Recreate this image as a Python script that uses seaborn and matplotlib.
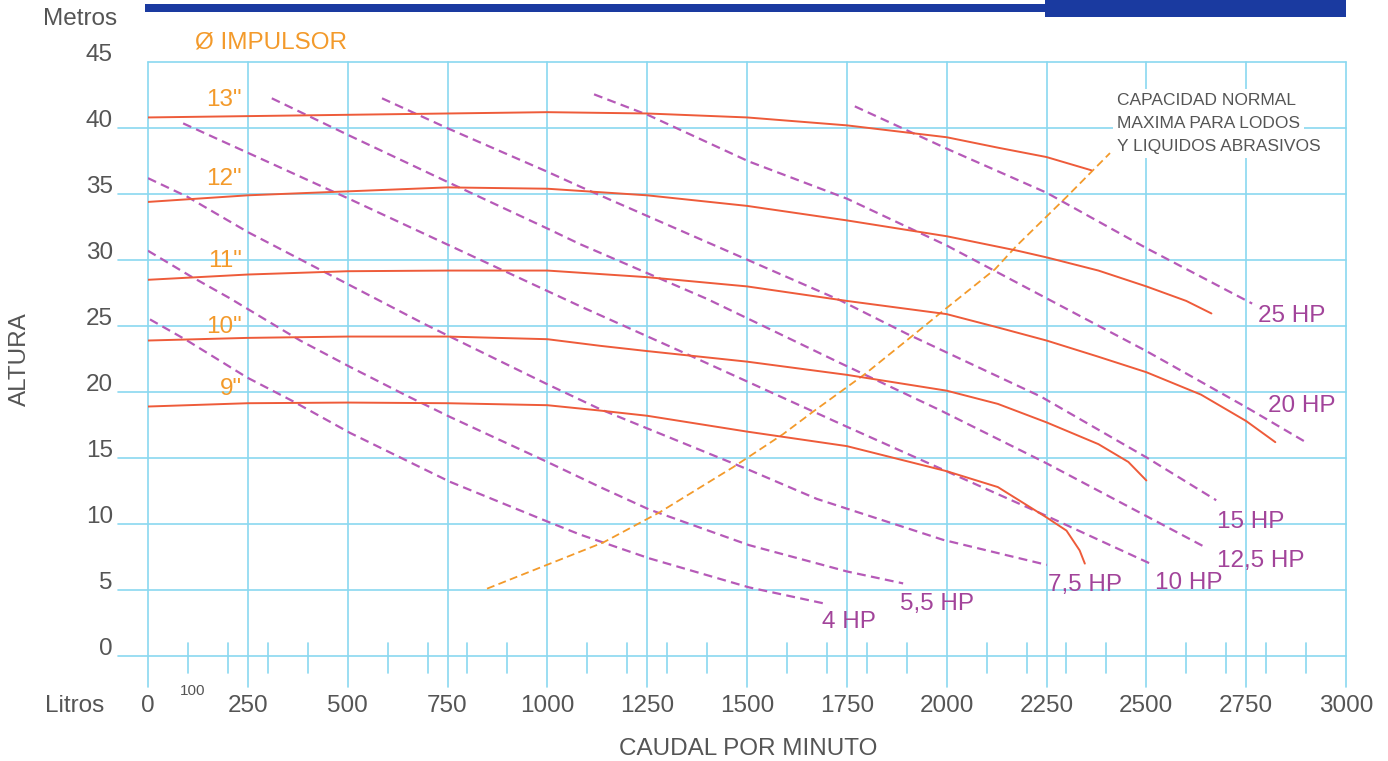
import matplotlib
matplotlib.use("Agg")
import matplotlib.pyplot as plt
import seaborn as sns
import pandas as pd
from matplotlib import font_manager
from matplotlib.patches import Rectangle

# ---- impeller head curves: flow (l/min) vs head (m) ----
imp_names = ['13"', '12"', '11"', '10"', '9"']
q_13 = [0, 250, 500, 750, 1000, 1250, 1500, 1750, 2000, 2130, 2250, 2362]
h_13 = [40.8, 40.9, 41.0, 41.1, 41.2, 41.1, 40.8, 40.2, 39.3, 38.5, 37.8, 36.8]
q_12 = [0, 250, 500, 750, 1000, 1250, 1500, 1750, 2000, 2178, 2250, 2380, 2500, 2600, 2663]
h_12 = [34.4, 34.9, 35.2, 35.5, 35.4, 34.9, 34.1, 33.0, 31.8, 30.7, 30.2, 29.2, 28.0, 26.9, 25.95]
q_11 = [0, 250, 500, 750, 1000, 1250, 1500, 1750, 2000, 2127, 2250, 2377, 2500, 2637, 2750, 2823]
h_11 = [28.5, 28.9, 29.15, 29.2, 29.2, 28.7, 28.0, 26.9, 25.9, 24.9, 23.9, 22.7, 21.5, 19.8, 17.8, 16.2]
q_10 = [0, 250, 500, 750, 1000, 1132, 1250, 1500, 1750, 2000, 2128, 2250, 2380, 2455, 2500]
h_10 = [23.9, 24.1, 24.2, 24.2, 24.0, 23.5, 23.1, 22.3, 21.3, 20.1, 19.1, 17.7, 16.05, 14.7, 13.3]
q_9 = [0, 250, 500, 750, 1000, 1130, 1250, 1500, 1750, 2000, 2128, 2250, 2300, 2333, 2346]
h_9 = [18.9, 19.15, 19.2, 19.15, 19.0, 18.6, 18.2, 17.0, 15.9, 14.0, 12.8, 10.5, 9.5, 8.0, 7.0]

# ---- motor power lines ----
hp_names = ["4 HP", "5,5 HP", "7,5 HP", "10 HP", "12,5 HP", "15 HP", "20 HP", "25 HP"]
q_4hp = [5, 98, 248, 363, 506, 756, 999, 1082, 1255, 1505, 1690]
h_4hp = [25.5, 23.9, 21.1, 19.3, 16.9, 13.2, 10.2, 9.2, 7.4, 5.2, 4.0]
q_55hp = [0, 105, 205, 381, 506, 649, 757, 1000, 1132, 1255, 1505, 1751, 1891]
h_55hp = [30.7, 28.8, 27.1, 23.9, 21.9, 19.7, 18.1, 14.7, 12.8, 11.1, 8.4, 6.4, 5.5]
q_75hp = [0, 98, 251, 689, 756, 999, 1132, 1505, 1675, 1991, 2251]
h_75hp = [36.2, 34.8, 32.1, 25.2, 24.2, 20.6, 18.7, 14.1, 11.9, 8.8, 6.9]
q_10hp = [88, 506, 1082, 1340, 1733, 2251, 2517]
h_10hp = [40.35, 34.6, 26.5, 23.0, 17.6, 10.6, 6.9]
q_125hp = [310, 506, 751, 999, 1082, 1400, 1733, 1985, 2250, 2500, 2650]
h_125hp = [42.25, 39.4, 35.9, 32.4, 31.2, 27.05, 22.2, 18.6, 14.6, 10.6, 8.2]
q_15hp = [586, 751, 999, 1082, 1733, 1901, 2236, 2500, 2675]
h_15hp = [42.25, 39.97, 36.7, 35.56, 26.95, 24.4, 19.65, 15.05, 11.8]
q_20hp = [1117, 1254, 1505, 1750, 2000, 2250, 2500, 2750, 2905]
h_20hp = [42.55, 40.96, 37.46, 34.65, 31.1, 27.1, 23.1, 18.85, 16.1]
q_25hp = [1770, 2010, 2250, 2500, 2765]
h_25hp = [41.64, 38.3, 35.1, 30.9, 26.7]

# ---- limit for sludge / abrasive liquids ----
q_lim = [849, 1140, 1282, 1465, 1590, 1665, 1795, 1916, 1991, 2121, 2176, 2301, 2409]
h_lim = [5.1, 8.6, 10.9, 14.3, 16.8, 18.5, 21.35, 24.3, 26.15, 29.3, 31.1, 34.8, 38.1]

x_ticks = [0, 250, 500, 750, 1000, 1250, 1500, 1750, 2000, 2250, 2500, 2750, 3000]
y_ticks = [0, 5, 10, 15, 20, 25, 30, 35, 40, 45]

GRID = "#8ad8f0"
TEXT = "#555555"
ORANGE = "#f39a2b"
RED = "#ee5b3a"
PURPLE = "#b65ab8"
PURPLE_TXT = "#a2449a"
BLUE = "#1a3aa0"

sns.set_style("white")
avail = {f.name for f in font_manager.fontManager.ttflist}
fam = "Liberation Sans Narrow" if "Liberation Sans Narrow" in avail else "Liberation Sans"
plt.rcParams["font.family"] = [fam, "DejaVu Sans"]

fig = plt.figure(figsize=(13.88, 7.61), dpi=100)
ax = fig.add_axes([148 / 1388, 1 - 656 / 761, 1198 / 1388, 594 / 761])
ax.set_xlim(0, 3000)
ax.set_ylim(0, 45)
for s in ax.spines.values():
    s.set_visible(False)
ax.set_xticks([])
ax.set_yticks([])

# grid
for v in y_ticks[:-1]:
    ax.plot([-75, 3000], [v, v], color=GRID, lw=1.2, clip_on=False, zorder=1)
ax.plot([0, 3000], [45, 45], color=GRID, lw=1.2, clip_on=False, zorder=1)
for v in x_ticks:
    ax.plot([v, v], [-2.35, 45], color=GRID, lw=1.2, clip_on=False, zorder=1)
for v in range(100, 3000, 100):
    if v % 500:
        ax.plot([v, v], [1.0, -1.25], color=GRID, lw=1.2, clip_on=False, zorder=1)

# impeller curves
imp_q = [q_13, q_12, q_11, q_10, q_9]
imp_h = [h_13, h_12, h_11, h_10, h_9]
for name, q, h in zip(imp_names, imp_q, imp_h):
    df = pd.DataFrame({"q": q, "h": h})
    sns.lineplot(data=df, x="q", y="h", ax=ax, color=RED, lw=1.4, sort=False,
                 estimator=None, zorder=3)

# power lines
hp_q = [q_4hp, q_55hp, q_75hp, q_10hp, q_125hp, q_15hp, q_20hp, q_25hp]
hp_h = [h_4hp, h_55hp, h_75hp, h_10hp, h_125hp, h_15hp, h_20hp, h_25hp]
for name, q, h in zip(hp_names, hp_q, hp_h):
    df = pd.DataFrame({"q": q, "h": h})
    sns.lineplot(data=df, x="q", y="h", ax=ax, color=PURPLE, lw=1.6, sort=False,
                 estimator=None, zorder=2)
    ax.lines[-1].set_dashes([4.0, 2.4])

# limit line
df = pd.DataFrame({"q": q_lim, "h": h_lim})
sns.lineplot(data=df, x="q", y="h", ax=ax, color=ORANGE, lw=1.3, sort=False,
             estimator=None, zorder=2)
ax.lines[-1].set_dashes([4.4, 2.4])
ax.set_xlabel("")
ax.set_ylabel("")

# axis texts
FS = 17.5
for v in y_ticks:
    ax.text(-88, v + 0.05, str(v), ha="right", va="baseline", fontsize=FS, color=TEXT,
            clip_on=False)
for v in x_ticks:
    ax.text(v, -4.25, str(v), ha="center", va="baseline", fontsize=FS, color=TEXT,
            clip_on=False)
ax.text(113, -2.96, "100", ha="center", va="baseline", fontsize=11, color=TEXT)
ax.text(-183, -4.25, "Litros", ha="center", va="baseline", fontsize=FS, color=TEXT)
ax.text(-170, 47.8, "Metros", ha="center", va="baseline", fontsize=FS, color=TEXT)
ax.text(-320, 22.5, "ALTURA", ha="center", va="center", fontsize=FS, color=TEXT,
        rotation=90)
ax.text(1502, -7.5, "CAUDAL POR MINUTO", ha="center", va="baseline", fontsize=FS,
        color=TEXT)
ax.text(118, 46.05, "Ø IMPULSOR", ha="left", va="baseline", fontsize=FS, color=ORANGE)

# header bar
ax.add_patch(Rectangle((-7.5, 48.78), 2253.5, 0.62, color=BLUE, clip_on=False, lw=0))
ax.add_patch(Rectangle((2246, 48.4), 754, 1.6, color=BLUE, clip_on=False, lw=0))

# impeller labels
imp_lab_y = [41.64, 35.7, 29.5, 24.5, 19.8]
for name, y in zip(imp_names, imp_lab_y):
    ax.text(235, y, name, ha="right", va="baseline", fontsize=FS, color=ORANGE, zorder=4)

# power labels
hp_lab_x = [1688, 1883, 2254, 2521, 2677, 2677, 2804, 2779]
hp_lab_y = [2.13, 3.5, 4.94, 5.09, 6.76, 9.73, 18.47, 25.3]
for name, x, y in zip(hp_names, hp_lab_x, hp_lab_y):
    ax.text(x, y, name, ha="left", va="baseline", fontsize=FS, color=PURPLE_TXT, zorder=4)

note_lines = ["CAPACIDAD NORMAL", "MAXIMA PARA LODOS", "Y LIQUIDOS ABRASIVOS"]
note_y = [42.1, 40.35, 38.6]
for txt, y in zip(note_lines, note_y):
    ax.text(2426, y, txt, ha="left", va="center", fontsize=12.5, color=TEXT, zorder=5,
            bbox=dict(facecolor="white", edgecolor="none", pad=3))

fig.savefig("out.png", dpi=100, facecolor="white")
